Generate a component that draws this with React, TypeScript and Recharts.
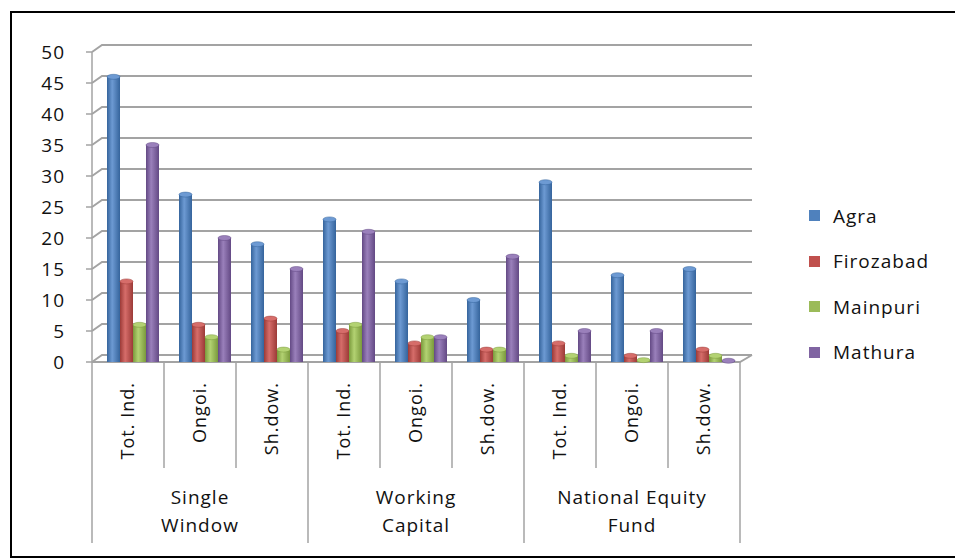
import { BarChart, Bar, XAxis, YAxis, CartesianGrid, Legend } from "recharts";

const subCats = ["Tot. Ind.", "Ongoi.", "Sh.dow.", "Tot. Ind.", "Ongoi.", "Sh.dow.", "Tot. Ind.", "Ongoi.", "Sh.dow."];
const groupLines = [["Single", "Window"], ["Working", "Capital"], ["National Equity", "Fund"]];

const agra = [46, 27, 19, 23, 13, 10, 29, 14, 15];
const firozabad = [13, 6, 7, 5, 3, 2, 3, 1, 2];
const mainpuri = [6, 4, 2, 6, 4, 2, 1, 0.3, 1];
const mathura = [35, 20, 15, 21, 4, 17, 5, 5, 0.2];

const yTicks = [0, 5, 10, 15, 20, 25, 30, 35, 40, 45, 50];

const series = [
  { key: "Agra", color: "#4F81BD", dark: "#35649c", light: "#6d9ad3" },
  { key: "Firozabad", color: "#C0504D", dark: "#9c3a37", light: "#d66d6a" },
  { key: "Mainpuri", color: "#9BBB59", dark: "#7a9a3c", light: "#b3d272" },
  { key: "Mathura", color: "#8064A2", dark: "#634984", light: "#9a80bb" },
];

const data = subCats.map((c, i) => ({
  idx: i,
  cat: c,
  Agra: agra[i],
  Firozabad: firozabad[i],
  Mainpuri: mainpuri[i],
  Mathura: mathura[i],
}));

const FONT = "'Open Sans', Lato, sans-serif";
const INK = "#111";
const GRID = "#a3a3a3";
const DX = 10; // depth offset of the back wall
const DY = 7;

// cylinder-ish column like the old excel 3d chart
function makeShape(s: (typeof series)[number]) {
  return (props: any) => {
    const { x, y, width, height } = props;
    if (height == null || width == null) return <g />;
    const bx = x + 5;
    const e = 2.5;
    const gid = "grad-" + s.key;
    return (
      <g>
        <defs>
          <linearGradient id={gid} x1="0" y1="0" x2="1" y2="0">
            <stop offset="0%" stopColor={s.dark} />
            <stop offset="40%" stopColor={s.light} />
            <stop offset="100%" stopColor={s.dark} />
          </linearGradient>
        </defs>
        <rect x={bx} y={y} width={width} height={Math.max(height, 0.5)} fill={`url(#${gid})`} />
        <ellipse cx={bx + width / 2} cy={y} rx={width / 2} ry={e} fill={s.light} stroke={s.dark} strokeWidth={0.5} />
      </g>
    );
  };
}

function gridLine(props: any) {
  const { x1, x2, y1, key } = props;
  const back = `M${x1},${y1} L${x1 + DX},${y1 - DY} L${x2 + DX + 2},${y1 - DY}`;
  const isFloor = Math.abs(y1 - 362) < 2;
  return (
    <g key={key}>
      <path d={back} fill="none" stroke={GRID} strokeWidth={2} />
      {isFloor && (
        <path d={`M${x1},${y1} L${x2},${y1} L${x2 + DX + 2},${y1 - DY}`} fill="none" stroke={GRID} strokeWidth={2} />
      )}
    </g>
  );
}

function CatTick(props: any) {
  const { x, y, payload } = props;
  const i = payload.index;
  const half = 36;
  const first = i % 3 === 0;
  const last = i === subCats.length - 1;
  const grp = groupLines[Math.floor(i / 3)];
  return (
    <g>
      <line x1={x - half} y1={y} x2={x - half} y2={y + (first ? 181 : 106)} stroke={GRID} strokeWidth={1.5} />
      {last && <line x1={x + half} y1={y} x2={x + half} y2={y + 181} stroke={GRID} strokeWidth={1.5} />}
      <text
        transform={`translate(${x},${y + 20}) rotate(-90)`}
        textAnchor="end"
        dy="0.35em"
        fontSize={18}
        letterSpacing={1}
        fontFamily={FONT}
        fill={INK}
      >
        {payload.value}
      </text>
      {i % 3 === 1 &&
        grp.map((t, k) => (
          <text
            key={k}
            x={x}
            y={y + 135 + k * 28}
            dy="0.35em"
            textAnchor="middle"
            fontSize={19}
            letterSpacing={1}
            fontFamily={FONT}
            fill={INK}
          >
            {t}
          </text>
        ))}
    </g>
  );
}

function LegendBox() {
  return (
    <div style={{ fontFamily: FONT, fontSize: 19, letterSpacing: 1, color: INK }}>
      {series.map((s) => (
        <div key={s.key} style={{ display: "flex", alignItems: "center", height: 45.5 }}>
          <span style={{ width: 11, height: 11, background: s.color, display: "inline-block", marginRight: 13 }} />
          <span>{s.key}</span>
        </div>
      ))}
    </div>
  );
}

export default function App() {
  return (
    <div style={{ position: "absolute", left: 0, top: 0, width: 955, height: 560, overflow: "hidden", background: "#fff" }}>
      <div
        style={{
          position: "absolute",
          left: 10,
          top: 11,
          width: 980,
          height: 543,
          border: "2px solid #000",
        }}
      />
      <div style={{ position: "absolute", left: 0, top: 0 }}>
        <BarChart
          width={955}
          height={560}
          data={data}
          margin={{ top: 52, right: 215, bottom: 18, left: 32 }}
          barGap={0}
          barSize={13}
        >
          <CartesianGrid vertical={false} horizontal={gridLine} />
          <XAxis
            dataKey="cat"
            interval={0}
            height={180}
            axisLine={false}
            tickLine={false}
            tickSize={0}
            tickMargin={0}
            tick={<CatTick />}
          />
          <YAxis
            width={60}
            domain={[0, 50]}
            ticks={yTicks}
            interval={0}
            axisLine={{ stroke: GRID, strokeWidth: 1.5 }}
            tickLine={{ stroke: GRID, strokeWidth: 1.5 }}
            tickSize={6}
            tickMargin={21}
            tick={{ fontSize: 19, fontFamily: FONT, fill: INK, letterSpacing: 1 }}
          />
          <Legend
            layout="vertical"
            align="center"
            verticalAlign="middle"
            content={() => <LegendBox />}
            wrapperStyle={{ position: "absolute", left: 809, top: 193, width: 146 }}
          />
          {series.map((s) => (
            <Bar key={s.key} dataKey={s.key} fill={s.color} shape={makeShape(s)} isAnimationActive={false} />
          ))}
        </BarChart>
      </div>
    </div>
  );
}
